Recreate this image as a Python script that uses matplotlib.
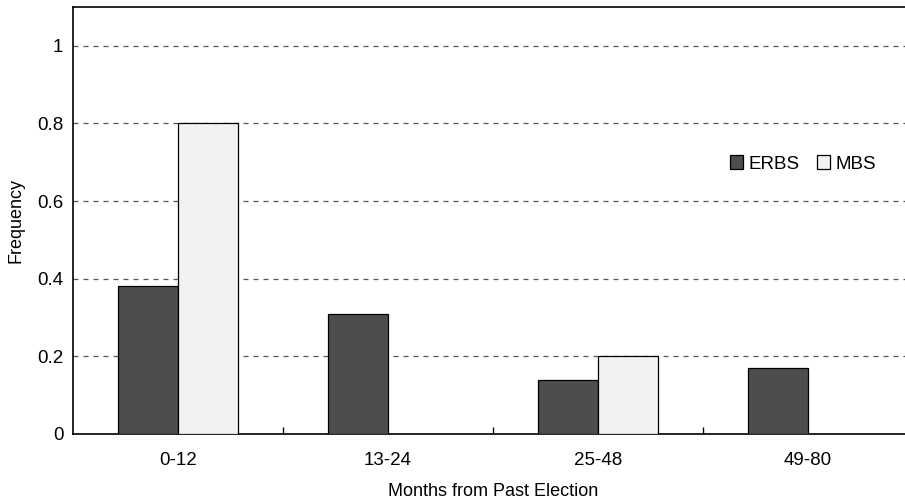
import matplotlib.pyplot as plt
import numpy as np

plt.rcParams['font.family'] = ['Liberation Sans', 'DejaVu Sans']

categories = ['0-12', '13-24', '25-48', '49-80']
erbs = [0.38, 0.31, 0.14, 0.17]
mbs = [0.80, 0.0, 0.20, 0.0]
y_ticks = [0, 0.2, 0.4, 0.6, 0.8, 1.0]
y_ticklabels = ['0', '0.2', '0.4', '0.6', '0.8', '1']

bar_w = 0.2857
fs = 13.5

fig = plt.figure(figsize=(9.05, 5), dpi=100)
# right edge of the axes runs past the figure, as in the cropped original
ax = fig.add_axes([73 / 905, 66 / 500, 840 / 905, 427 / 500])

x = np.arange(len(categories))
ax.bar(x - bar_w / 2, erbs, bar_w, color='#4d4d4d', edgecolor='black',
       linewidth=0.9, label='ERBS', zorder=3)
ax.bar(x + bar_w / 2, mbs, bar_w, color='#f2f2f2', edgecolor='black',
       linewidth=0.9, label='MBS', zorder=3)

ax.set_xlim(-0.5, len(categories) - 0.5)
ax.set_ylim(0, 1.1)

for yv in y_ticks[1:]:
    ax.axhline(yv, color='#555555', linestyle=(0, (4, 4)), linewidth=0.9, zorder=1)

ax.set_yticks(y_ticks)
ax.set_yticklabels(y_ticklabels, fontsize=fs)
ax.tick_params(axis='y', length=0, pad=7)

ax.set_xticks(x)
ax.set_xticklabels(categories, fontsize=fs)
ax.tick_params(axis='x', which='major', length=0, pad=13)
ax.set_xticks(x[:-1] + 0.5, minor=True)
ax.tick_params(axis='x', which='minor', direction='in', length=5, width=1)

ax.spines['right'].set_visible(False)
for s in ['left', 'top', 'bottom']:
    ax.spines[s].set_linewidth(1.2)

ax.set_xlabel('Months from Past Election', fontsize=fs - 0.5, labelpad=10)
ax.set_ylabel('Frequency', fontsize=fs - 0.5, labelpad=9)

ax.legend(loc='center', bbox_to_anchor=(803 / 905, 1 - 164 / 500),
          bbox_transform=fig.transFigure, ncol=2, frameon=False,
          fontsize=fs, handlelength=0.7, handleheight=0.7,
          handletextpad=0.3, columnspacing=0.9)

plt.savefig('out.png', dpi=100)
